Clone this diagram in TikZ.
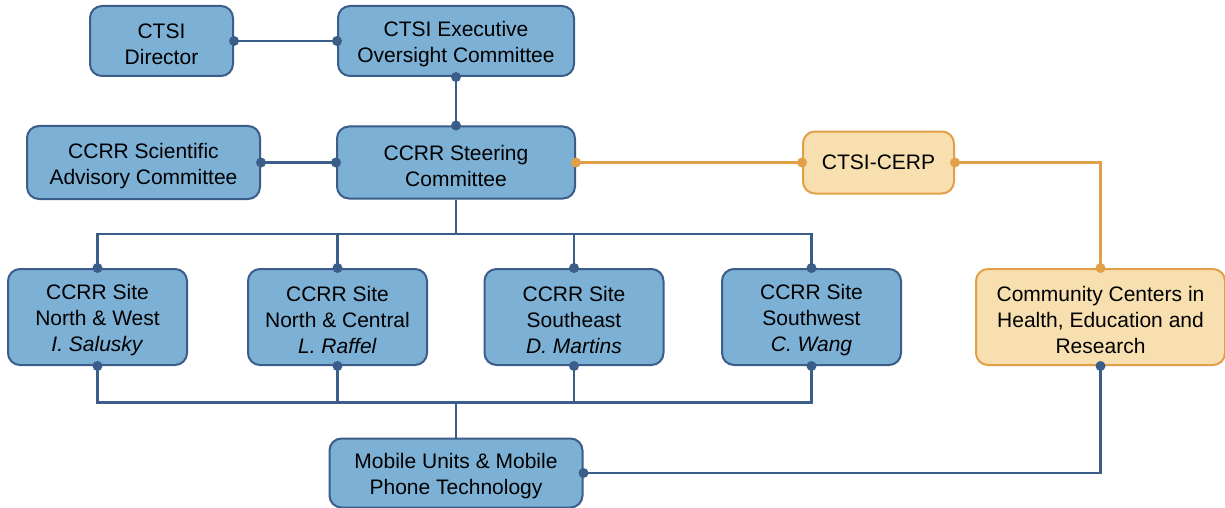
\documentclass[tikz,border=0pt]{standalone}
\usepackage{fontspec}
\setmainfont{Liberation Sans}
\usetikzlibrary{calc}
\definecolor{fillblue}{RGB}{124,176,212}
\definecolor{lineblue}{RGB}{59,93,137}
\definecolor{fillorange}{RGB}{247,223,175}
\definecolor{lineorange}{RGB}{225,160,72}
\newcommand{\tstrut}{\rule{0pt}{22pt}}
\tikzset{%
  bbox/.style = {rectangle,rounded corners=12pt,draw=lineblue,fill=fillblue,
        line width=2pt,align=center,inner sep=0pt,
        font=\fontsize{21}{26}\selectfont},
  obox/.style = {bbox,draw=lineorange,fill=fillorange},
  bline/.style = {draw=lineblue,line width=2.6pt},
  oline/.style = {draw=lineorange,line width=2.6pt}
}

\begin{document}
\begin{tikzpicture}[x=1pt,y=-1pt]
\useasboundingbox (0,0) rectangle (1225,508);
% top rows
\node[bbox,minimum width=143pt,minimum height=70pt] (dir) at (161.5,41) {\tstrut CTSI\\Director};
\node[bbox,minimum width=236pt,minimum height=70pt] (exec) at (456,41) {\tstrut CTSI Executive\\Oversight Committee};
\node[bbox,minimum width=233pt,minimum height=73pt] (sci) at (143.5,162.5) {\tstrut CCRR Scientific\\Advisory Committee};
\node[bbox,minimum width=238pt,minimum height=72pt] (steer) at (456,162.5) {\tstrut CCRR Steering\\Committee};
\node[obox,minimum width=151pt,minimum height=62pt] (cerp) at (878.5,162.5) {CTSI-CERP};
% sites
\node[bbox,minimum width=179pt,minimum height=96pt] (site1) at (97.5,317) {\tstrut CCRR Site\\North \& West\\\textit{I. Salusky}};
\node[bbox,minimum width=179pt,minimum height=96pt] (site2) at (337.5,317) {\tstrut CCRR Site\\North \& Central\\\textit{L. Raffel}};
\node[bbox,minimum width=179pt,minimum height=96pt] (site3) at (574,317) {\tstrut CCRR Site\\Southeast\\\textit{D. Martins}};
\node[bbox,minimum width=179pt,minimum height=96pt] (site4) at (811.5,317) {\tstrut CCRR Site\\Southwest\\\textit{C. Wang}};
\node[obox,minimum width=249pt,minimum height=96pt] (cche) at (1100.5,317) {\tstrut Community Centers in\\Health, Education and\\Research};
\node[bbox,minimum width=253pt,minimum height=69pt] (mobile) at (456,473) {\tstrut Mobile Units \& Mobile\\Phone Technology};

\coordinate (bustop) at (456,234);
\coordinate (buslow) at (456,402.5);

\draw[bline] (dir.east) -- (exec.west);
\draw[bline] (exec.south) -- (steer.north);
\draw[bline] (sci.east) -- (steer.west);
\draw[oline] (steer.east) -- (cerp.west);
\draw[oline] (cerp.east) -| (cche.north);
\draw[bline] (steer.south) -- (bustop);
\draw[bline] (site1.north) |- (bustop) -| (site4.north);
\draw[bline] (site2.north) -- (site2.north |- bustop);
\draw[bline] (site3.north) -- (site3.north |- bustop);
\draw[bline] (site1.south) |- (buslow) -| (site4.south);
\draw[bline] (site2.south) -- (site2.south |- buslow);
\draw[bline] (site3.south) -- (site3.south |- buslow);
\draw[bline] (buslow) -- (mobile.north);
\draw[bline] (cche.south) |- (mobile.east);

% end dots
\foreach \p in {dir.east,exec.west,exec.south,steer.north,sci.east,steer.west,
    site1.north,site2.north,site3.north,site4.north,
    site1.south,site2.south,site3.south,site4.south,cche.south,mobile.east}
  \fill[lineblue] (\p) circle (5pt);
\foreach \p in {steer.east,cerp.west,cerp.east,cche.north}
  \fill[lineorange] (\p) circle (5pt);
\end{tikzpicture}
\end{document}
